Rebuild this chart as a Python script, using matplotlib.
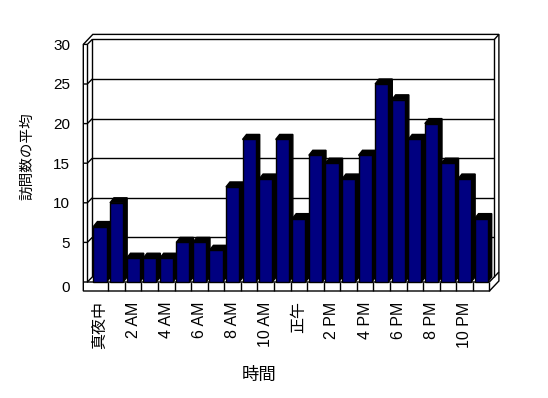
import matplotlib
matplotlib.use('Agg')
import matplotlib.pyplot as plt
from matplotlib.patches import Polygon
from matplotlib.transforms import ScaledTranslation

plt.rcParams['font.family'] = ['Liberation Sans', 'Noto Sans CJK JP']

# データ
hours = ['真夜中', '1 AM', '2 AM', '3 AM', '4 AM', '5 AM', '6 AM', '7 AM',
         '8 AM', '9 AM', '10 AM', '11 AM', '正午', '1 PM', '2 PM', '3 PM',
         '4 PM', '5 PM', '6 PM', '7 PM', '8 PM', '9 PM', '10 PM', '11 PM']
visits = [7, 10, 3, 3, 3, 5, 5, 4, 12, 18, 13, 18,
          8, 16, 15, 13, 16, 25, 23, 18, 20, 15, 13, 8]
tick_pos = list(range(0, 24, 2))
tick_labels = [hours[i] for i in tick_pos]
y_ticks = [0, 5, 10, 15, 20, 25, 30]

W, H = 548, 398
fig = plt.figure(figsize=(W / 100, H / 100), dpi=100)

# 前面 (正面) の枠 - ピクセル
left_px, right_px = 91.7, 489.4
base_px, top_px = 282.0, 44.4
ax = fig.add_axes([left_px / W, 1 - base_px / H,
                   (right_px - left_px) / W, (base_px - top_px) / H])
ax.set_xlim(-0.5, 23.5)
ax.set_ylim(0, 30)
ax.patch.set_visible(False)
for s in ax.spines.values():
    s.set_visible(False)

ux = (right_px - left_px) / 24.0   # px per category
uy = (base_px - top_px) / 30.0     # px per unit

# 奥行き・壁の厚さ (データ単位)
DX, DY = 5 / ux, 5 / uy
TX, TY = 4.5 / ux, 5 / uy
WALL = 4 / ux
FLOOR = 9 / uy
X0, X1 = -0.5 - 4.4 / ux, 23.5
YTOP = 30
BW = 13.2 / ux
BX, BY = 4 / ux, 5 / uy
LW = 1.0


def poly(pts, fc, z, ec='black'):
    ax.add_patch(Polygon(pts, closed=True, facecolor=fc, edgecolor=ec,
                         linewidth=LW, zorder=z, clip_on=False))


def line(xs, ys, z=2):
    ax.plot(xs, ys, color='black', lw=LW, zorder=z, clip_on=False,
            solid_capstyle='butt')


# 外形 (白)
poly([(X0 - WALL, -FLOOR), (X0 - WALL, YTOP),
      (X0 - WALL + DX + TX, YTOP + DY + TY),
      (X1 + DX + TX, YTOP + DY + TY),
      (X1 + DX + TX, DY + TY - FLOOR),
      (X1, -FLOOR)], 'white', 1)

# 左の壁
line([X0, X0], [0, YTOP])
line([X0 - WALL, X0, X0 + DX], [YTOP, YTOP, YTOP + DY])
for v in y_ticks[1:-1]:
    line([X0 - WALL, X0, X0 + DX], [v, v, v + DY])

# 奥の壁
line([X0 + DX, X0 + DX, X1 + DX, X1 + DX], [DY, YTOP + DY, YTOP + DY, DY])
line([X1 + DX, X1 + DX + TX], [YTOP + DY, YTOP + DY + TY])
for v in y_ticks[1:-1]:
    line([X0 + DX, X1 + DX], [v + DY, v + DY])

# 床
line([X0 - WALL, X1, X1 + DX + TX], [0, 0, DY + TY])
line([X1, X1], [-FLOOR, 0])
line([X0, X0 + DX], [0, DY])
for i in range(len(hours) - 1):
    line([i + 0.5, i + 0.5], [-FLOOR, 0])

# 棒
for i, v in enumerate(visits):
    z = 10 + 2 * i
    poly([(i - BW / 2, v), (i - BW / 2 + BX, v + BY),
          (i + BW / 2 + BX, v + BY), (i + BW / 2 + BX, BY),
          (i + BW / 2, 0), (i + BW / 2, v)], 'black', z)
    bar = ax.bar(i, v, width=BW, color='#000080', edgecolor='black',
                 linewidth=LW)
    bar[0].set_zorder(z + 1)
    bar[0].set_clip_on(False)

ax.set_xticks(tick_pos, tick_labels, rotation=90)
ax.set_yticks(y_ticks)
ax.tick_params(axis='x', length=0, pad=14, labelsize=11.5)
ax.tick_params(axis='y', length=0, pad=15.5, labelsize=11)

# 0 のラベルは床の厚さ分下がっている
lbl0 = ax.get_yticklabels()[0]
lbl0.set_transform(lbl0.get_transform() +
                   ScaledTranslation(0, -0.05, fig.dpi_scale_trans))

fig.text(259 / W, 1 - 375 / H, '時間', ha='center', va='center', fontsize=12.5)
fig.text(27 / W, 1 - 156.5 / H, '訪問数の平均', rotation=90,
         ha='center', va='center', fontsize=10.5)

fig.savefig('out.png', dpi=100, facecolor='white')
